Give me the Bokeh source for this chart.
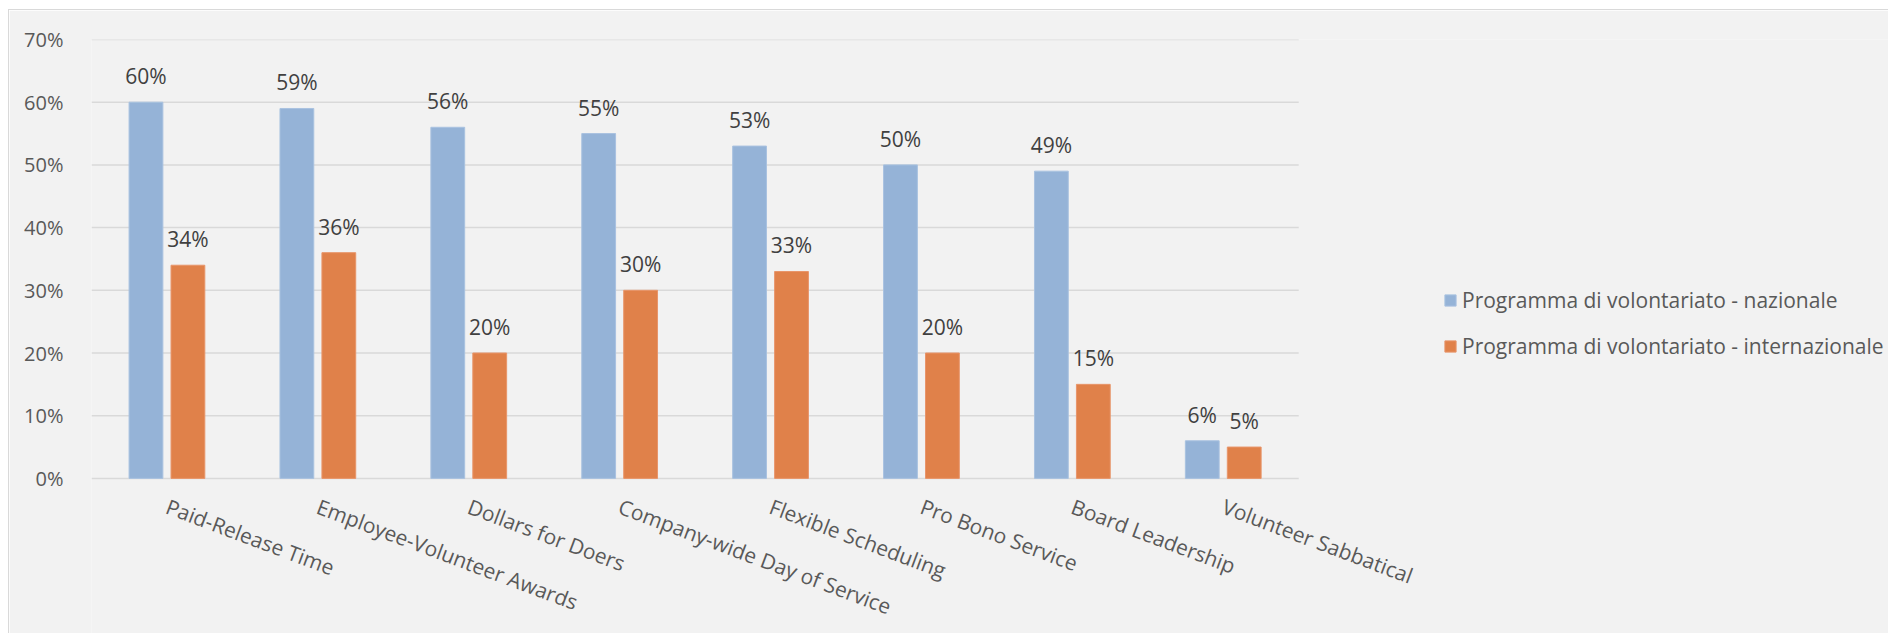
from bokeh.plotting import figure
from bokeh.models import (FixedTicker, NumeralTickFormatter, Legend, LegendItem,
                          ColumnDataSource, Range1d)
from bokeh.core.properties import value
from bokeh.embed import file_html
from bokeh.resources import INLINE

categories = ["Paid-Release Time", "Employee-Volunteer Awards", "Dollars for Doers",
              "Company-wide Day of Service", "Flexible Scheduling", "Pro Bono Service",
              "Board Leadership", "Volunteer Sabbatical"]
nazionale = [0.60, 0.59, 0.56, 0.55, 0.53, 0.50, 0.49, 0.06]
internazionale = [0.34, 0.36, 0.20, 0.30, 0.33, 0.20, 0.15, 0.05]
series_names = ["Programma di volontariato - nazionale",
                "Programma di volontariato - internazionale"]
y_ticks = [0.0, 0.1, 0.2, 0.3, 0.4, 0.5, 0.6, 0.7]

FONT = "Open Sans"
BLUE = "#95B3D7"
ORANGE = "#E0814A"
BG = "#F2F2F2"

# layout (pixels)
W, H = 1880, 624
LEFT, TOP = 82, 29
FRAME_W, FRAME_H = W - LEFT, H - TOP
CAT_PX = 150.9           # width of one category slot
PX_PER_UNIT = 627.0      # pixels for a value of 1.0 (100%)
Y_TOP = 0.70

n = len(categories)
centers = [i + 0.5 for i in range(n)]
off = 0.139
bw = 0.224

src = ColumnDataSource(dict(
    xc=centers,
    xn=[c - off for c in centers],
    xi=[c + off for c in centers],
    cat=categories,
    zero=[0.0] * n,
    nat=nazionale,
    intl=internazionale,
    nat_lbl=[f"{round(v * 100)}%" for v in nazionale],
    intl_lbl=[f"{round(v * 100)}%" for v in internazionale],
))

p = figure(width=W, height=H,
           x_range=Range1d(0, FRAME_W / CAT_PX),
           y_range=Range1d(Y_TOP - FRAME_H / PX_PER_UNIT, Y_TOP),
           x_axis_location=None,
           output_backend="svg", toolbar_location=None,
           min_border_left=LEFT, min_border_top=TOP, min_border_right=0,
           min_border_bottom=0)
p.styles = {"margin-left": "8px", "margin-top": "9px",
            "border-left": "1px solid #D9D9D9", "border-top": "1px solid #D9D9D9"}
p.background_fill_color = BG
p.border_fill_color = BG
p.outline_line_color = None
p.xgrid.grid_line_color = None
p.ygrid.grid_line_color = None

# horizontal gridlines, limited to the category area
p.segment(x0=[0] * len(y_ticks), x1=[n] * len(y_ticks), y0=y_ticks, y1=y_ticks,
          line_color="#D9D9D9", line_width=1.5)

r1 = p.vbar(x="xn", top="nat", width=bw, source=src,
            fill_color=BLUE, line_color="#A9C2E0", line_width=1)
r2 = p.vbar(x="xi", top="intl", width=bw, source=src,
            fill_color=ORANGE, line_color="#E8956A", line_width=1)

# data labels
for xc, col, lbl in (("xn", "nat", "nat_lbl"), ("xi", "intl", "intl_lbl")):
    p.text(x=xc, y=col, text=lbl, source=src,
           text_align="center", text_baseline="middle", y_offset=-26,
           text_font=value(FONT), text_font_size="21px", text_color="#404040")

# category labels (rotated, hanging below the baseline)
p.text(x="xc", y="zero", text="cat", source=src, angle=-0.36,
       text_align="left", text_baseline="middle", y_offset=27,
       text_font=value(FONT), text_font_size="21px", text_color="#595959")

# y axis
p.yaxis.ticker = FixedTicker(ticks=y_ticks)
p.yaxis.formatter = NumeralTickFormatter(format="0%")
ax = p.yaxis[0]
ax.axis_line_color = None
ax.major_tick_line_color = None
ax.minor_tick_line_color = None
ax.major_label_text_font = FONT
ax.major_label_text_font_size = "20px"
ax.major_label_text_color = "#595959"
ax.major_label_standoff = 22

frame_bottom = 10 + H
legend = Legend(items=[LegendItem(label=series_names[0], renderers=[r1]),
                       LegendItem(label=series_names[1], renderers=[r2])],
                location=(1443 - 91, frame_bottom - 360), orientation="vertical",
                background_fill_alpha=0, border_line_color=None,
                padding=0, margin=0, spacing=18, glyph_width=14, glyph_height=14,
                label_standoff=5, label_text_font=FONT, label_text_font_size="21px",
                label_text_color="#595959")
p.add_layout(legend, "center")

open("out.html", "w").write(file_html(p, INLINE))
